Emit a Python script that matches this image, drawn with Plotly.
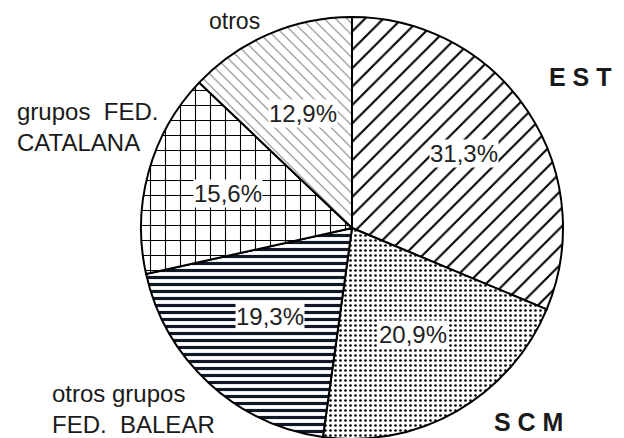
import math
import plotly.graph_objects as go

# data
labels = ['EST', 'SCM', 'otros grupos FED. BALEAR', 'grupos FED. CATALANA', 'otros']
values = [31.3, 20.9, 19.3, 15.6, 12.9]
pct_text = ['31,3%', '20,9%', '19,3%', '15,6%', '12,9%']

W, H = 624, 438
OFF = -8  # page body margin pushes the figure 8px right/down in the browser
# pie geometry in reference pixels (center and radius)
cx, cy, R = 352, 228, 211


def px_x(x):
    return (x + OFF) / W


def px_y(y):
    return 1 - (y + OFF) / H


patterns = [
    dict(shape='/', size=13, solidity=0.16, fgcolor='black', bgcolor='white'),
    dict(shape='.', size=5, solidity=0.22, fgcolor='black', bgcolor='white'),
    dict(shape='-', size=7, solidity=0.45, fgcolor='#101828', bgcolor='white'),
    dict(shape='+', size=15, solidity=0.14, fgcolor='black', bgcolor='white'),
    dict(shape='\\', size=8, solidity=0.12, fgcolor='#777777', bgcolor='white'),
]

pie = go.Pie(
    labels=labels,
    values=values,
    sort=False,
    direction='clockwise',
    rotation=0,
    textinfo='none',
    hoverinfo='label+percent',
    marker=dict(
        colors=['white'] * 5,
        line=dict(color='black', width=2),
        pattern=dict(
            shape=[p['shape'] for p in patterns],
            size=[p['size'] for p in patterns],
            solidity=[p['solidity'] for p in patterns],
            fgcolor=[p['fgcolor'] for p in patterns],
            bgcolor=[p['bgcolor'] for p in patterns],
            fillmode='replace',
        ),
    ),
    domain=dict(x=[px_x(cx - R), px_x(cx + R)], y=[max(0, px_y(cy + R)), px_y(cy - R)]),
    showlegend=False,
)

fig = go.Figure(data=[pie])

font_main = 'Liberation Sans, Arial, sans-serif'
annotations = []

# percentage labels at the middle angle of each slice
total = sum(values)
cum = 0
radial = [0.64, 0.58, 0.57, 0.61, 0.59]
for v, txt, rf in zip(values, pct_text, radial):
    mid = (cum + v / 2) / total * 2 * math.pi
    cum += v
    x = cx + rf * R * math.sin(mid)
    y = cy - rf * R * math.cos(mid)
    annotations.append(dict(
        x=px_x(x), y=px_y(y), xref='paper', yref='paper',
        xanchor='center', yanchor='middle',
        text=txt, showarrow=False, bgcolor='white', borderpad=0,
        font=dict(family=font_main, size=24, color='#222222'),
    ))

# outer category labels: text, x, y, anchor, bold, size
outer = [
    ('E S T', 580, 77, 'center', True, 25),
    ('S C M', 528, 422, 'center', True, 25),
    ('otros', 234, 21, 'center', False, 23),
    ('grupos  FED.<br>CATALANA', 15, 127, 'left', False, 24),
    ('otros grupos<br>FED.  BALEAR', 50, 409, 'left', False, 24),
]
for txt, x, y, anchor, bold, size in outer:
    annotations.append(dict(
        x=px_x(x), y=px_y(y), xref='paper', yref='paper',
        xanchor=anchor, yanchor='middle', align=anchor,
        text=f'<b>{txt}</b>' if bold else txt, showarrow=False,
        font=dict(family=font_main, size=size, color='#1a1a1a'),
    ))

fig.update_layout(
    width=W, height=H,
    margin=dict(l=0, r=0, t=0, b=0),
    paper_bgcolor='white',
    plot_bgcolor='white',
    annotations=annotations,
)

fig.write_html('out.html')
